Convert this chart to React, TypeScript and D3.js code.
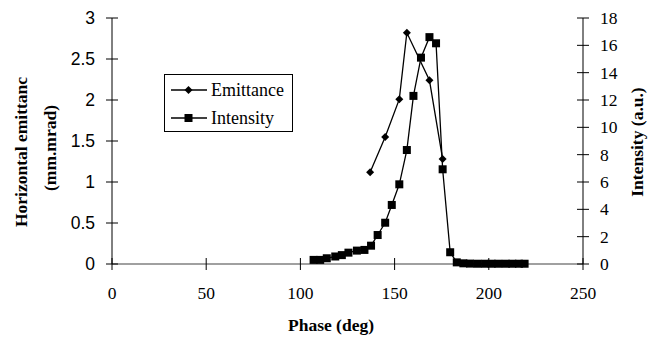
import { useEffect } from "react";
import * as d3 from "d3";

const emitPhase = [137, 145, 152.5, 156.5, 168.5, 175.5];
const emitValue = [1.12, 1.55, 2.01, 2.82, 2.24, 1.28];

const intPhase = [
  107, 110.5, 114, 118.5, 122, 125.5, 130, 134, 137.5, 141, 145, 148.5, 152.5,
  156.5, 160, 164, 168.5, 172, 175.5, 179.5, 183, 186.5, 190, 194, 198, 201.5,
  205, 209, 212.5, 216, 219,
];
const intValue = [
  0.3, 0.3, 0.42, 0.55, 0.65, 0.83, 0.98, 1.03, 1.34, 2.12, 3.02, 4.32, 5.83,
  8.34, 12.3, 15.1, 16.6, 16.15, 6.93, 0.86, 0.12, 0.05, 0.03, 0.02, 0.02, 0.02,
  0.02, 0.02, 0.02, 0.02, 0.02,
];

const xTicks = [0, 50, 100, 150, 200, 250];
const leftTicks = [0, 0.5, 1, 1.5, 2, 2.5, 3];
const rightTicks = [0, 2, 4, 6, 8, 10, 12, 14, 16, 18];

const serif = "'Liberation Serif', 'Times New Roman', serif";
const sans = "'Liberation Sans', Arial, sans-serif";

const W = 661;
const H = 339;

const App = () => {
  useEffect(() => {
    document.body.style.margin = "0";
  }, []);

  const x = d3.scaleLinear().domain([0, 250]).range([112, 583]);
  const yL = d3.scaleLinear().domain([0, 3]).range([264, 18]);
  const yR = d3.scaleLinear().domain([0, 18]).range([264, 18]);

  const emitPts = emitPhase.map((p, i) => [x(p), yL(emitValue[i])]);
  const intPts = intPhase.map((p, i) => [x(p), yR(intValue[i])]);
  const line = d3.line();

  const diamond = (cx, cy, r = 4) =>
    `M${cx},${cy - r}L${cx + r},${cy}L${cx},${cy + r}L${cx - r},${cy}Z`;
  const sq = 8;

  return (
    <svg width={W} height={H} style={{ display: "block", background: "#fff" }}>
      {/* x axis */}
      <line x1={x(0)} x2={x(250)} y1={yL(0)} y2={yL(0)} stroke="#808080" strokeWidth={1.3} />
      {xTicks.map((t) => (
        <g key={"x" + t}>
          <line x1={x(t)} x2={x(t)} y1={yL(0) - 6} y2={yL(0) + 6} stroke="#000" />
          <text x={x(t)} y={299} textAnchor="middle" fontFamily={serif} fontSize={17.5}>
            {t}
          </text>
        </g>
      ))}

      {/* left axis */}
      <line x1={x(0)} x2={x(0)} y1={yL(0)} y2={yL(3)} stroke="#000" />
      {leftTicks.map((t) => (
        <g key={"l" + t}>
          <line x1={x(0) - 6} x2={x(0) + 6} y1={yL(t)} y2={yL(t)} stroke="#000" />
          <text x={95} y={yL(t)} dy="0.35em" textAnchor="end" fontFamily={sans} fontSize={17.5}>
            {t}
          </text>
        </g>
      ))}

      {/* right axis */}
      <line x1={x(250)} x2={x(250)} y1={yR(0)} y2={yR(18)} stroke="#000" />
      {rightTicks.map((t) => (
        <g key={"r" + t}>
          <line x1={x(250) - 6} x2={x(250) + 6} y1={yR(t)} y2={yR(t)} stroke="#000" />
          <text x={600} y={yR(t)} dy="0.35em" textAnchor="start" fontFamily={serif} fontSize={17.5}>
            {t}
          </text>
        </g>
      ))}

      {/* axis titles */}
      <text
        transform="translate(27,152) rotate(-90)"
        textAnchor="middle"
        fontFamily={serif}
        fontWeight="bold"
        fontSize={17.5}
      >
        Horizontal emittanc
      </text>
      <text
        transform="translate(55.5,148) rotate(-90)"
        textAnchor="middle"
        fontFamily={serif}
        fontWeight="bold"
        fontSize={17.5}
      >
        (mm.mrad)
      </text>
      <text
        transform="translate(643,142) rotate(-90)"
        textAnchor="middle"
        fontFamily={serif}
        fontWeight="bold"
        fontSize={17.5}
      >
        Intensity (a.u.)
      </text>
      <text x={331} y={331} textAnchor="middle" fontFamily={serif} fontWeight="bold" fontSize={17.5}>
        Phase (deg)
      </text>

      {/* series */}
      <path d={line(intPts)} fill="none" stroke="#000" strokeWidth={1.3} />
      {intPts.map(([cx, cy], i) => (
        <rect key={"s" + i} x={cx - sq / 2} y={cy - sq / 2} width={sq} height={sq} fill="#000" />
      ))}
      <path d={line(emitPts)} fill="none" stroke="#000" strokeWidth={1.3} />
      {emitPts.map(([cx, cy], i) => (
        <path key={"d" + i} d={diamond(cx, cy)} fill="#000" />
      ))}

      {/* legend */}
      <rect x={164.5} y={74.5} width={128} height={57} fill="#fff" stroke="#000" />
      <line x1={171} x2={207} y1={90} y2={90} stroke="#000" strokeWidth={1.3} />
      <path d={diamond(188.5, 90)} fill="#000" />
      <text x={211} y={96} fontFamily={serif} fontSize={18}>
        Emittance
      </text>
      <line x1={171} x2={207} y1={118} y2={118} stroke="#000" strokeWidth={1.3} />
      <rect x={188.5 - sq / 2} y={118 - sq / 2} width={sq} height={sq} fill="#000" />
      <text x={211} y={124} fontFamily={serif} fontSize={18}>
        Intensity
      </text>
    </svg>
  );
};

export default App;
